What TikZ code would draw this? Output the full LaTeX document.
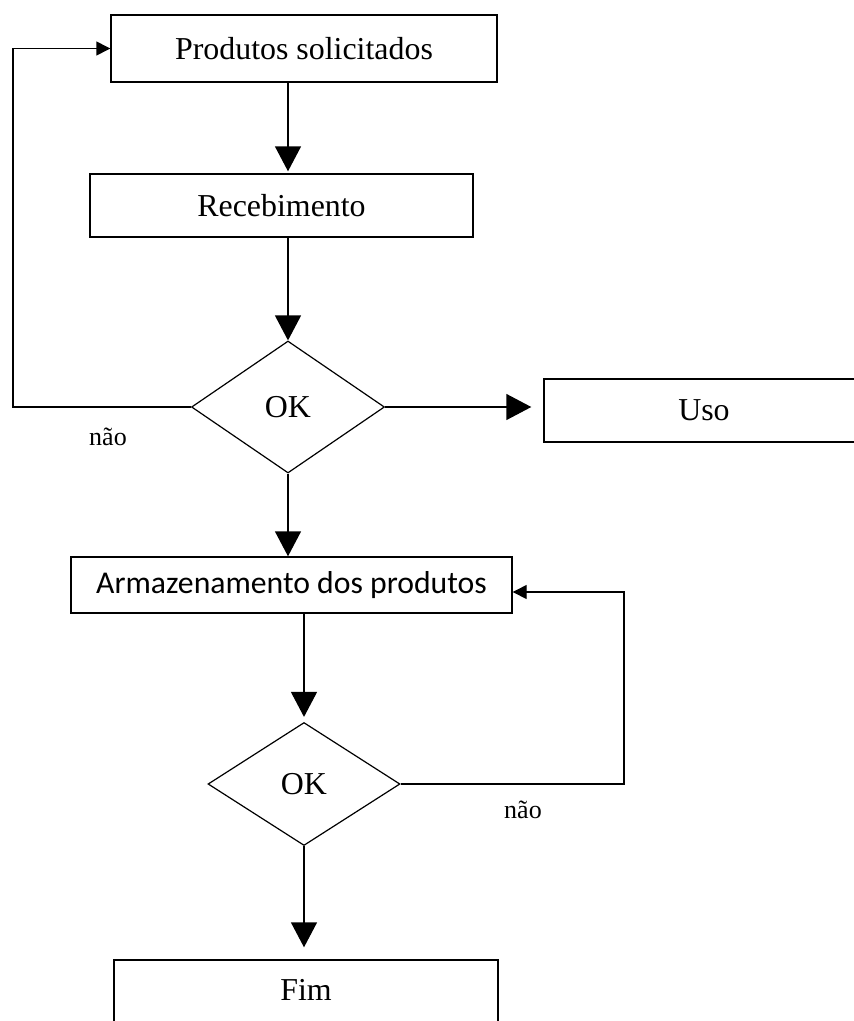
\documentclass[tikz,border=0pt]{standalone}
\usepackage{fontspec}
\setmainfont{Liberation Serif}
\newfontfamily\calib{Carlito}
\usetikzlibrary{shapes.geometric,arrows.meta}
\begin{document}
\begin{tikzpicture}[x=1pt,y=-1pt,
  every node/.style={inner sep=0pt, font=\fontsize{31.9}{36}\selectfont},
  procbox/.style={draw, line width=1.4pt, rectangle},
  decis/.style={draw, line width=1.2pt, diamond, aspect=1.45},
  conn/.style={line width=1.4pt},
  bigarrow/.style={conn, -{Triangle[length=25pt,width=26pt]}},
  smallarrow/.style={conn, -{Triangle[length=14pt,width=14pt]}},
  lbl/.style={font=\fontsize{26}{30}\selectfont}]
\useasboundingbox (0,0) rectangle (854,1021);
\fill[white] (0,0) rectangle (854,1021);

\node[procbox, minimum width=386pt, minimum height=67pt] (p) at (304,48.5) {Produtos solicitados};
\node[procbox, minimum width=383pt, minimum height=63pt] (rec) at (281.5,205.5) {Recebimento};
\node[decis, minimum width=193pt, minimum height=132pt] (d1) at (288,407) {OK};
\node[procbox, minimum width=320pt, minimum height=63pt] (uso) at (704,410.5) {Uso};
\node[procbox, minimum width=441pt, minimum height=56pt, font=\calib\fontsize{31.7}{36}\selectfont] (arm) at (291.5,585) {Armazenamento dos produtos};
\node[decis, minimum width=192pt, minimum height=123pt] (d2) at (304,784) {OK};
\node[procbox, minimum width=384pt, minimum height=80pt] (fim) at (306,1000) {};
\node (fimt) at (306,990) {Fim};

\node[lbl] (nao1) at (108,437) {não};
\node[lbl] (nao2) at (523,810) {não};

\coordinate (L1) at (13,407);
\coordinate (R2) at (624,784);
\coordinate (R2top) at (624,592);

\draw[bigarrow, shorten >=2pt] (p.south -| d1.north) -- (rec.north -| d1.north);
\draw[bigarrow] (rec.south -| d1.north) -- (d1.north);
\draw[bigarrow] (d1.south) -- (arm.north -| d1.south);
\draw[bigarrow, shorten >=12pt] (d1.east) -- (uso.west |- d1.east);
\draw[bigarrow, shorten >=5pt] (arm.south -| d2.north) -- (d2.north);
\draw[bigarrow, shorten >=12pt] (d2.south) -- (fim.north -| d2.south);

\draw[smallarrow] (d1.west) -- (L1) |- (p.west);
\draw[smallarrow] (d2.east) -- (R2) -- (R2top) -- (R2top -| arm.east);
\end{tikzpicture}
\end{document}
